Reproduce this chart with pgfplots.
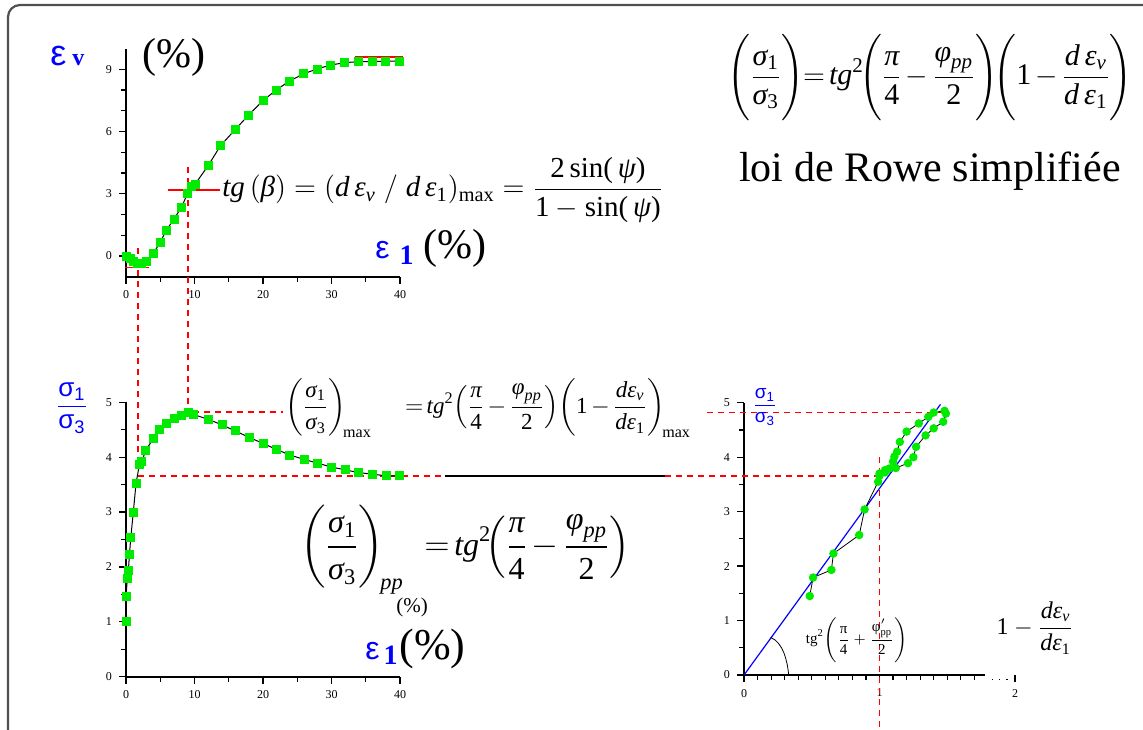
\documentclass[border=0pt]{standalone}
\usepackage{amsmath}
\usepackage{fontspec}
\setmainfont{Liberation Serif}
\setsansfont{Liberation Sans}
\usepackage{pgfplots}
\pgfplotsset{compat=1.18}

\newcommand{\ti}[1]{\text{\itshape #1}}
\newcommand{\tu}[1]{\text{#1}}
\newcommand{\tight}{\thickmuskip=2.5mu\medmuskip=2.5mu}
\newcommand{\tall}{\rule[-20pt]{0pt}{47.5pt}}
\definecolor{ptgreen}{RGB}{0,235,0}
\definecolor{framegray}{RGB}{80,80,80}
\definecolor{guide}{RGB}{255,0,0}

\pgfplotsset{
  base/.style={
    scale only axis, clip=false,
    axis lines=left,
    axis line style={-, line width=1pt},
    tick align=outside,
    major tick length=3.5pt, minor tick length=2.5pt,
    every tick/.style={black, line width=0.6pt},
    ticklabel style={font=\fontsize{6}{7}\selectfont},
    /pgf/number format/assume math mode=true,
  },
  curve/.style={black, line width=0.5pt},
  pts/.style={only marks, mark=square*, mark size=2pt, ptgreen, mark options={draw=ptgreen, fill=ptgreen}},
}
\tikzset{guideline/.style={draw=guide, line width=0.9pt, dash pattern=on 3pt off 2.5pt}}

% volumetric strain vs axial strain
\pgfplotstableread{
x y
0 0
0.6 -0.1
1.1 -0.27
1.65 -0.35
2.3 -0.35
3.0 -0.27
4.0 0.13
5.0 0.66
5.9 1.25
7.0 1.78
8.1 2.35
9.0 3.02
9.6 3.34
10.1 3.47
12.0 4.36
13.8 5.32
15.9 6.08
17.9 6.80
20.0 7.49
21.9 8.00
23.9 8.44
25.9 8.78
27.9 9.02
29.9 9.21
31.9 9.32
33.9 9.37
36.0 9.37
37.9 9.40
39.9 9.40
}\epsv

% stress ratio vs axial strain
\pgfplotstableread{
x y
0 1.00
0 1.46
0.2 1.79
0.35 1.94
0.5 2.22
0.7 2.54
1.07 3.00
1.46 3.52
1.95 3.86
2.3 3.92
2.9 4.13
4.0 4.34
4.9 4.50
5.9 4.62
7.0 4.71
8.1 4.77
9.1 4.81
9.8 4.78
12.0 4.69
14.0 4.59
15.9 4.48
18.0 4.36
20.0 4.25
22.0 4.14
23.9 4.04
26.0 3.96
28.0 3.89
30.0 3.82
32.0 3.77
33.9 3.72
36.0 3.69
38.0 3.66
39.9 3.66
}\ratio

% stress ratio vs 1 - d(eps_v)/d(eps_1)
\pgfplotstableread{
x y
0.485 1.45
0.51 1.79
0.645 1.93
0.66 2.23
0.85 2.57
0.89 3.04
0.99 3.55
1.00 3.70
1.04 3.76
1.07 3.79
1.10 3.92
1.11 4.01
1.13 4.10
1.15 4.28
1.20 4.47
1.29 4.62
1.36 4.74
1.40 4.82
1.48 4.85
1.49 4.80
1.47 4.65
1.40 4.53
1.34 4.40
1.27 4.19
1.25 4.00
1.21 3.89
1.12 3.80
1.04 3.72
1.00 3.66
}\rowe

\begin{document}
\begin{tikzpicture}
\useasboundingbox (0,0) rectangle (571.5pt,364.5pt);
\fill[white] (0,0) rectangle (571.5pt,364.5pt);
\draw[framegray, line width=1.1pt, rounded corners=6pt] (4pt,-10pt) -- (4pt,362pt) -- (585pt,362pt);

% ---- top: eps_v vs eps_1
\begin{axis}[base, at={(63pt,226.15pt)}, width=137pt, height=114.05pt,
  xmin=0, xmax=40, ymin=-1, ymax=10,
  xtick={0,10,20,30,40}, minor x tick num=1,
  ytick={0,3,6,9}, minor y tick num=2]
  \draw[guideline] (axis cs:1.7,0.37) -- (axis cs:1.7,-9.69);
  \draw[guideline] (axis cs:9.1,4.3) -- (axis cs:9.1,-7.43);
  \addplot[curve] table[x=x,y=y] {\epsv};
  \addplot[pts] table[x=x,y=y] {\epsv};
  \draw[draw=guide, line width=0.7pt] (axis cs:-0.2,-0.56) -- (axis cs:3.3,-0.56);
  \draw[draw=guide, line width=0.7pt] (axis cs:6.2,3.18) -- (axis cs:13.7,3.18);
  \draw[draw=guide, line width=0.7pt] (axis cs:33.4,9.6) -- (axis cs:40.4,9.6);
\end{axis}

% ---- bottom left: sigma1/sigma3 vs eps_1
\begin{axis}[base, at={(63pt,26.15pt)}, width=137pt, height=137.2pt,
  xmin=0, xmax=40, ymin=0, ymax=5,
  xtick={0,10,20,30,40}, minor x tick num=1,
  ytick={0,1,2,3,4,5}, minor y tick num=1]
  \draw[guideline] (axis cs:9.8,4.82) -- (axis cs:22.9,4.82);
  \draw[guideline] (axis cs:1.7,3.66) -- (axis cs:46.6,3.66);
  \draw[black, line width=0.8pt] (axis cs:46.6,3.66) -- (axis cs:78.7,3.66);
  \addplot[curve] coordinates {(0,0.8) (0,1.0)};
  \addplot[curve] table[x=x,y=y] {\ratio};
  \addplot[pts] table[x=x,y=y] {\ratio};
\end{axis}

% ---- right: stress-dilatancy
\begin{axis}[base, at={(372pt,27pt)}, width=135.5pt, height=136.15pt,
  xmin=0, xmax=2, ymin=0, ymax=5,
  x axis line style={draw=none},
  xtick={0,1,2},
  minor xtick={0.1,0.2,0.3,0.4,0.5,0.6,0.7,0.8,0.9,1.1,1.2,1.3,1.4,1.5,1.6,1.7},
  ytick={0,1,2,3,4,5}, minor y tick num=1]
  \draw[line width=1pt] (axis cs:0,0) -- (axis cs:1.78,0);
  \draw[line width=0.6pt, dash pattern=on 0.6pt off 3pt] (axis cs:1.83,-0.08) -- (axis cs:1.98,-0.08);
  \draw[guideline] (axis cs:-0.58,3.66) -- (axis cs:1.0,3.66);
  \draw[guideline] (axis cs:-0.27,4.82) -- (axis cs:1.49,4.82);
  \draw[guideline] (axis cs:1,4.0) -- (axis cs:1,-1.0);
  \addplot[blue, line width=0.6pt] coordinates {(0,0) (1.45,4.97)};
  \draw[black, line width=0.4pt] (axis cs:0.196,0.69) .. controls (axis cs:0.29,0.6) and (axis cs:0.32,0.25) .. (axis cs:0.33,0);
  \addplot[curve, line width=0.4pt] table[x=x,y=y] {\rowe};
  \addplot[only marks, mark=*, mark size=1.9pt, ptgreen] table[x=x,y=y] {\rowe};
\end{axis}

% ---- axis titles
\node[anchor=base west, inner sep=0pt] at (25pt,331.5pt)
  {\color{blue}{\sffamily\fontsize{18}{18}\selectfont ε}\hspace{3pt}{\fontsize{12}{12}\selectfont\bfseries v}};
\node[inner sep=0pt] at (87pt,336pt) {\fontsize{21}{23}\selectfont(\%)};
\node[anchor=base west, inner sep=0pt] at (187.5pt,235pt)
  {{\color{blue}\sffamily\fontsize{16}{16}\selectfont ε}\hspace{5pt}\raisebox{-2.5pt}{\color{blue}\fontsize{14}{14}\selectfont\bfseries 1}\hspace{5pt}{\fontsize{21}{21}\selectfont(\%)}};
\node[anchor=base west, inner sep=0pt] at (182.5pt,35pt)
  {{\color{blue}\sffamily\fontsize{16}{16}\selectfont ε}\hspace{2pt}\raisebox{-2.5pt}{\color{blue}\fontsize{14}{14}\selectfont\bfseries 1}\hspace{1pt}{\fontsize{22}{22}\selectfont(\%)}};
\node[blue, inner sep=0pt] at (36pt,160.5pt)
  {\fontsize{13}{15}\selectfont\sffamily $\dfrac{\text{\sffamily σ}_{\text{\sffamily 1}}}{\text{\sffamily σ}_{\text{\sffamily 3}}}$};
\node[blue, inner sep=0pt] at (382.5pt,161pt)
  {\fontsize{9.5}{11}\selectfont\sffamily $\dfrac{\text{\sffamily σ}_{\text{\sffamily 1}}}{\text{\sffamily σ}_{\text{\sffamily 3}}}$};

% ---- equations
\node[anchor=west, inner sep=0pt] at (111pt,269.5pt)
  {\fontsize{14.5}{17}\selectfont $\displaystyle \ti{tg}\,(\ti{β}) = (\ti{d\,ε}_{\ti{v}}\;/\;\ti{d\,ε}_{\tu{1}})_{\tu{max}} = \frac{\tu{2\,sin(}\,\ti{ψ}\tu{)}}{\tu{1} - \tu{sin(}\,\ti{ψ}\tu{)}}$};
\node[inner sep=0pt] at (465pt,326pt)
  {\fontsize{15}{18}\selectfont\tight $\displaystyle \left(\tall\frac{\ti{σ}_{\tu{1}}}{\ti{σ}_{\tu{3}}}\right)\! = \ti{tg}^{\tu{2}}\!\!\left(\tall\frac{\ti{π}}{\tu{4}} - \frac{\ti{φ}_{\ti{pp}}}{\tu{2}}\right)\!\!\left(\tall\tu{1} - \frac{\ti{d\,ε}_{\ti{v}}}{\ti{d\,ε}_{\tu{1}}}\right)$};
\node[anchor=base, inner sep=0pt] at (465pt,273.5pt)
  {\fontsize{21}{24}\selectfont loi de Rowe simplifiée};
\node[anchor=west, inner sep=0pt] at (142.5pt,160.5pt)
  {\fontsize{11.5}{14}\selectfont\tight $\displaystyle \left(\frac{\ti{σ}_{\tu{1}}}{\ti{σ}_{\tu{3}}}\right)_{\!\tu{max}}\hspace{1.3em} = \ti{tg}^{\tu{2}}\!\left(\frac{\ti{π}}{\tu{4}} - \frac{\ti{φ}_{\ti{pp}}}{\tu{2}}\right)\!\left(\tu{1} - \frac{\ti{dε}_{\ti{v}}}{\ti{dε}_{\tu{1}}}\right)_{\!\tu{max}}$};
\node[anchor=west, inner sep=0pt] at (150pt,89.5pt)
  {\fontsize{16}{19}\selectfont\tight $\displaystyle \left(\frac{\ti{σ}_{\tu{1}}}{\ti{σ}_{\tu{3}}}\right)_{\!\ti{pp}}\hspace{0.5em} = \ti{tg}^{\tu{2}}\!\!\left(\frac{\ti{π}}{\tu{4}} - \frac{\ti{φ}_{\ti{pp}}}{\tu{2}}\right)$};
\node[inner sep=0pt] at (206pt,61pt) {\fontsize{10.5}{12}\selectfont(\%)};
\node[inner sep=0pt] at (428.5pt,44.5pt)
  {\fontsize{7.5}{9}\selectfont $\displaystyle \tu{tg}^{\tu{2}}\!\left(\frac{\tu{π}}{\tu{4}} + \frac{\tu{φ}'_{\tu{pp}}}{\tu{2}}\right)$};
\node[inner sep=0pt] at (517.5pt,50.5pt)
  {\fontsize{12}{14}\selectfont $\displaystyle \tu{1} - \frac{\ti{dε}_{\ti{v}}}{\ti{dε}_{\tu{1}}}$};
\end{tikzpicture}
\end{document}
